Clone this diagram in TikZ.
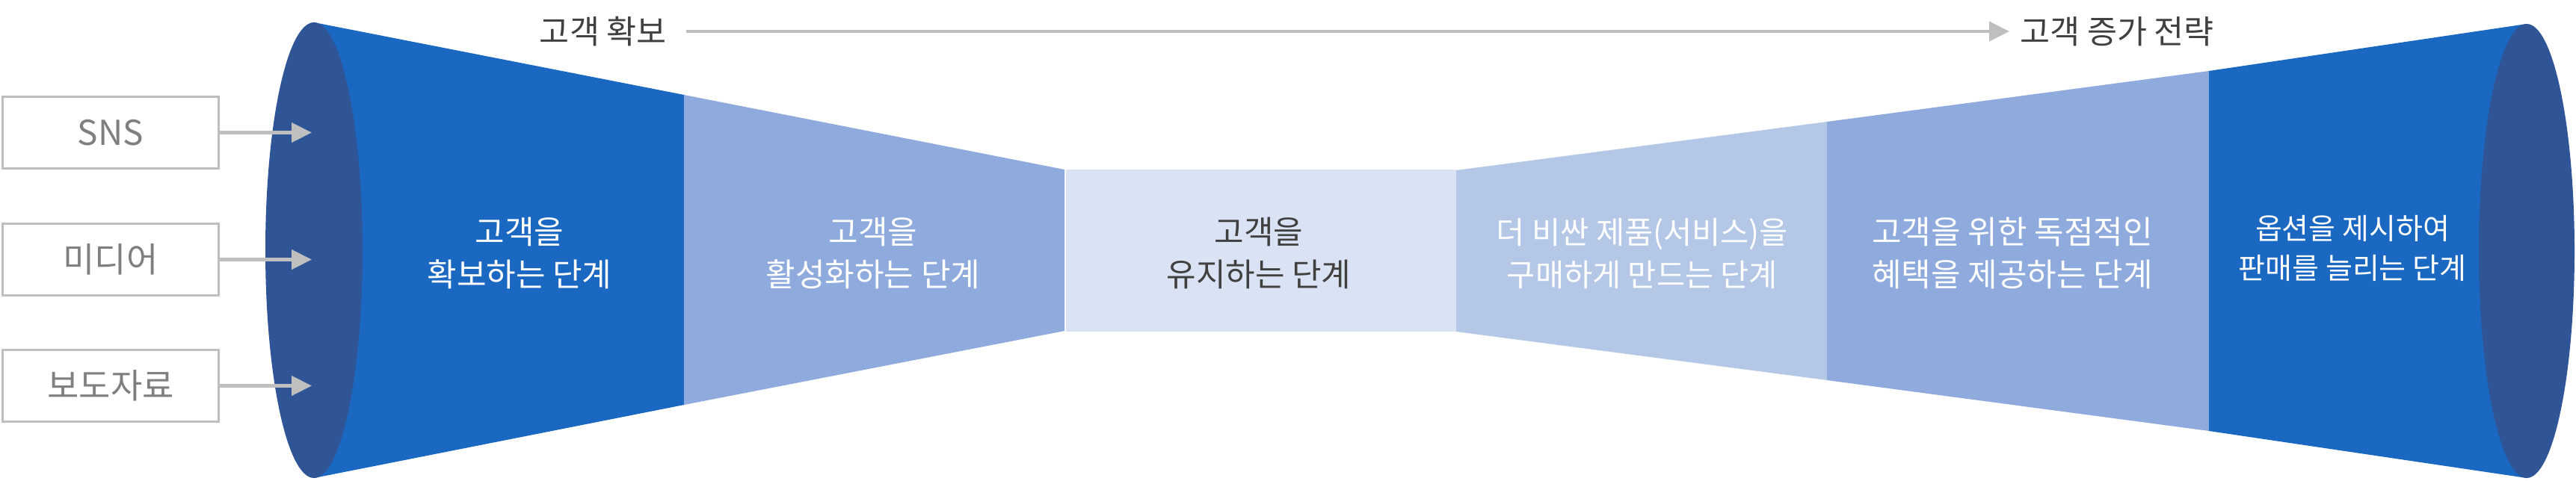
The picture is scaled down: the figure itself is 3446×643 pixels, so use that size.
\documentclass[tikz,border=0pt]{standalone}
\usepackage{fontspec}
\setmainfont{Noto Sans CJK KR}
\usetikzlibrary{arrows.meta}
\definecolor{ellcol}{HTML}{2F5597}
\definecolor{bluecol}{RGB}{26,104,194}
\definecolor{midcol}{HTML}{8FAADC}
\definecolor{palecol}{HTML}{DAE3F3}
\definecolor{lightcol}{HTML}{B4C7E7}
\definecolor{linegray}{HTML}{BFBFBF}
\definecolor{labelgray}{HTML}{7F7F7F}
\definecolor{darktext}{HTML}{404040}
\tikzset{
  stagetext/.style={align=center, inner sep=0pt, text=white, font=\fontsize{43}{57}\selectfont},
  srcbox/.style={draw=linegray, line width=3pt, minimum width=289pt, minimum height=96pt, inner sep=0pt, text=labelgray, font=\fontsize{46}{52}\selectfont},
  srcarrow/.style={draw=linegray, line width=4.5pt, -{Triangle[length=27pt,width=26pt]}},
  toplabel/.style={inner sep=0pt, text=darktext, font=\fontsize{43.5}{50}\selectfont},
  toparrow/.style={draw=linegray, line width=4.5pt, -{Triangle[length=27pt,width=26pt]}}
}
\begin{document}
\begin{tikzpicture}[x=1pt,y=-1pt]
\useasboundingbox[fill=white] (0,0) rectangle (3446,643);
% funnel sections
\fill[bluecol] (420,30) -- (915,127) -- (915,542) -- (420,640) -- cycle;
\fill[midcol] (915,127) -- (1424,227) -- (1424,443) -- (915,542) -- cycle;
\fill[palecol] (1425.5,227) rectangle (1948,444);
\fill[lightcol] (1948,228) -- (2444,163) -- (2444,509) -- (1948,444) -- cycle;
\fill[midcol] (2444,163) -- (2955,95) -- (2955,577) -- (2444,509) -- cycle;
\fill[bluecol] (2955,95) -- (3380,32) -- (3380,640) -- (2955,577) -- cycle;
% end ellipses
\fill[ellcol] (420,335) ellipse [x radius=65pt, y radius=305pt];
\fill[ellcol] (3380,336) ellipse [x radius=64pt, y radius=304pt];
% stage texts
\node[stagetext] (s1) at (695,338.5) {고객을\\확보하는 단계};
\node[stagetext] (s2) at (1168,338.5) {고객을\\활성화하는 단계};
\node[stagetext, text=darktext] (s3) at (1684,338.5) {고객을\\유지하는 단계};
\node[stagetext, font=\fontsize{41.5}{57}\selectfont] (s4) at (2197,339) {더 비싼 제품(서비스)을\\구매하게 만드는 단계};
\node[stagetext] (s5) at (2692,339) {고객을 위한 독점적인\\혜택을 제공하는 단계};
\node[stagetext, font=\fontsize{39}{53}\selectfont] (s6) at (3147,332.5) {옵션을 제시하여\\판매를 늘리는 단계};
% source boxes
\node[srcbox] (sns) at (148,177.5) {SNS};
\node[srcbox] (media) at (148,347.5) {미디어};
\node[srcbox] (press) at (148,516.5) {보도자료};
\coordinate (in1) at (417,177.5);
\coordinate (in2) at (417,347.5);
\coordinate (in3) at (417,516.5);
\draw[srcarrow] (sns.east) -- (in1);
\draw[srcarrow] (media.east) -- (in2);
\draw[srcarrow] (press.east) -- (in3);
% top labels
\node[toplabel, anchor=east] (t1) at (892,42) {고객 확보};
\node[toplabel, anchor=west] (t2) at (2702,42) {고객 증가 전략};
\draw[toparrow, shorten <=26pt, shorten >=14pt] (t1.east) -- (t2.west);
\end{tikzpicture}
\end{document}
